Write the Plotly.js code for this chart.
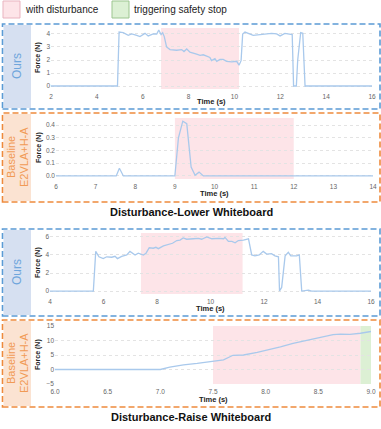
<!DOCTYPE html>
<html>
<head>
<meta charset="utf-8">
<script src="https://cdn.plot.ly/plotly-3.0.1.min.js"></script>
<style>
  html, body { margin: 0; padding: 0; background: #fff; }
  #plot { width: 381px; height: 429px; }
</style>
</head>
<body>
<div id="plot"></div>
<script>
// lower whiteboard, ours
const lowOursT = [2, 4.9, 4.97, 5.15, 5.37, 5.52, 5.74, 5.88, 6.10, 6.24, 6.46, 6.61, 6.70, 6.80, 6.87, 6.94, 7.04, 7.19, 7.48, 7.70, 7.80, 7.92, 8.06, 8.21, 8.35, 8.50, 8.64, 8.79, 8.93, 9.0, 9.15, 9.23, 9.37, 9.51, 9.66, 9.88, 10.1, 10.2, 10.29, 10.36, 10.46, 10.82, 11.11, 11.40, 11.62, 11.84, 11.99, 12.2, 12.45, 12.52, 12.58, 12.70, 12.76, 12.82, 12.89, 12.98, 13.08, 16];
const lowOursF = [0, 0, 4.15, 4.1, 3.9, 4.0, 3.9, 3.8, 4.05, 3.85, 4.0, 4.0, 4.3, 3.95, 4.1, 3.8, 3.0, 2.8, 2.75, 2.8, 2.65, 2.85, 2.6, 2.55, 2.45, 2.35, 2.4, 2.3, 2.2, 1.95, 2.1, 1.9, 2.05, 2.05, 1.9, 1.85, 1.9, 1.6, 1.95, 4.0, 4.15, 3.9, 3.95, 4.0, 4.05, 4.0, 3.85, 4.05, 4.0, 3.95, 0, 0, 2.0, 3.3, 4.1, 4.05, 0, 0];

// lower whiteboard, baseline
const lowBaseT = [6, 7.52, 7.6, 7.7, 9.0, 9.09, 9.2, 9.3, 9.41, 9.51, 9.61, 9.72, 14];
const lowBaseF = [0, 0, 0.06, 0, 0, 0.3, 0.43, 0.41, 0.07, 0.005, 0.03, 0, 0];

// raise whiteboard, ours
const raiseOursT = [4, 5.62, 5.71, 5.83, 5.99, 6.12, 6.31, 6.43, 6.52, 6.68, 6.87, 6.99, 7.18, 7.30, 7.49, 7.59, 7.71, 7.86, 7.96, 8.05, 8.24, 8.42, 8.58, 8.74, 8.86, 8.98, 9.11, 9.36, 9.55, 9.67, 9.86, 10.05, 10.30, 10.49, 10.54, 10.67, 10.80, 10.92, 11.04, 11.23, 11.42, 11.54, 11.66, 11.82, 11.97, 12.10, 12.28, 12.41, 12.54, 12.58, 12.66, 12.79, 12.91, 13.00, 13.22, 13.32, 13.41, 13.66, 13.78, 16];
const raiseOursF = [0, 0, 4.4, 3.8, 3.6, 3.8, 3.75, 3.85, 3.6, 3.85, 4.0, 4.4, 4.0, 4.2, 4.0, 4.2, 4.8, 4.75, 4.85, 4.7, 5.0, 5.15, 5.3, 5.6, 5.65, 5.9, 5.75, 5.8, 5.85, 5.75, 6.0, 5.8, 5.85, 5.8, 5.95, 5.5, 5.5, 5.35, 5.6, 5.65, 5.8, 4.0, 3.9, 4.0, 4.4, 4.1, 4.15, 3.9, 3.8, 0, 0.4, 3.9, 4.3, 3.9, 3.9, 4.0, 0, 0.1, 0, 0];

// raise whiteboard, baseline
const raiseBaseT = [6, 7.0, 7.09, 7.22, 7.35, 7.47, 7.60, 7.69, 7.79, 7.92, 8.01, 8.14, 8.26, 8.42, 8.55, 8.64, 8.71, 8.80, 8.90, 9.0];
const raiseBaseF = [0, 0, 0.8, 1.6, 2.1, 2.6, 3.3, 4.9, 5.0, 5.9, 6.6, 7.8, 9.0, 10.2, 11.3, 12.0, 12.2, 12.1, 12.5, 13.1];

// shaded windows [start, end]
const lowOursDist = [6.8, 10.2];
const lowBaseDist = [9.0, 12.0];
const raiseOursDist = [7.4, 11.2];
const raiseBaseDist = [7.5, 8.9];
const raiseBaseStop = [8.9, 9.0];

const W = 381, H = 429;
const px = v => v / W;
const py = v => 1 - v / H;

const lineStyle = {color: '#a9c9ec', width: 1.3};
const FONT = 'Liberation Sans, Arial, sans-serif';

const data = [
  {x: lowOursT, y: lowOursF, xaxis: 'x', yaxis: 'y', type: 'scatter', mode: 'lines', line: lineStyle},
  {x: lowBaseT, y: lowBaseF, xaxis: 'x2', yaxis: 'y2', type: 'scatter', mode: 'lines', line: lineStyle},
  {x: raiseOursT, y: raiseOursF, xaxis: 'x3', yaxis: 'y3', type: 'scatter', mode: 'lines', line: lineStyle},
  {x: raiseBaseT, y: raiseBaseF, xaxis: 'x4', yaxis: 'y4', type: 'scatter', mode: 'lines', line: lineStyle}
];

function xax(l, r, range, dtick, anchor, fmt) {
  return {domain: [px(l), px(r)], range: range, dtick: dtick, anchor: anchor, tickformat: fmt,
    showgrid: false, zeroline: false, showline: false, ticks: '', ticklen: 0, ticklabelstandoff: 2,
    tickfont: {size: 6.5, color: '#666', family: FONT}, automargin: false};
}
function yax(top, bot, range, dtick, anchor, fmt) {
  return {domain: [py(bot), py(top)], range: range, dtick: dtick, anchor: anchor, tickformat: fmt,
    showgrid: true, gridcolor: '#e3e3e3', griddash: 'dot', gridwidth: 1,
    zeroline: false, showline: false, ticks: '', ticklen: 0,
    tickfont: {size: 6.5, color: '#666', family: FONT}, automargin: false};
}

function band(xr, ax, color) {
  return {type: 'rect', xref: ax, yref: ax.replace('x', 'y') + ' domain', x0: xr[0], x1: xr[1], y0: 0, y1: 1,
    fillcolor: color, line: {width: 0}, layer: 'below'};
}
function box(top, bot, color) {
  return {type: 'rect', xref: 'paper', yref: 'paper', x0: px(2.5), x1: px(380), y0: py(bot), y1: py(top),
    line: {color: color, width: 1.6, dash: '6px,3px'}, fillcolor: 'rgba(0,0,0,0)'};
}
function side(top, bot, color) {
  return {type: 'rect', xref: 'paper', yref: 'paper', x0: px(3.5), x1: px(31), y0: py(bot - 1), y1: py(top + 1),
    line: {width: 0}, fillcolor: color, layer: 'below'};
}
function label(text, x, y, size, color, angle, xanchor) {
  return {text: text, x: px(x), y: py(y), xref: 'paper', yref: 'paper', xanchor: xanchor || 'center', yanchor: 'middle',
    textangle: angle || 0, showarrow: false, font: {size: size, color: color, family: FONT}};
}

const PINK = '#fde4e8', GREEN = '#dcf0d4';
const BLUE = '#5b9bd5', ORANGE = '#ee8a3c';

const shapes = [
  band(lowOursDist, 'x', PINK),
  band(lowBaseDist, 'x2', PINK),
  band(raiseOursDist, 'x3', PINK),
  band(raiseBaseDist, 'x4', PINK),
  band(raiseBaseStop, 'x4', GREEN),
  side(24, 109, '#d6e0f1'),
  side(113, 202, '#fbe3d2'),
  side(229, 316, '#d6e0f1'),
  side(320, 407, '#fbe3d2'),
  box(24, 109, BLUE),
  box(113, 202, ORANGE),
  box(229, 316, BLUE),
  box(320, 407, ORANGE),
  // legend swatches
  {type: 'rect', xref: 'paper', yref: 'paper', x0: px(3), x1: px(20), y0: py(18), y1: py(1),
    fillcolor: PINK, line: {color: '#e9b3bf', width: 1}},
  {type: 'rect', xref: 'paper', yref: 'paper', x0: px(112), x1: px(129), y0: py(18), y1: py(1),
    fillcolor: GREEN, line: {color: '#9cc58f', width: 1}}
];

const annotations = [
  label('with disturbance', 23, 9.5, 10, '#222', 0, 'left'),
  label('triggering safety stop', 132, 9.5, 10, '#222', 0, 'left'),
  label('Ours', 17, 66, 12, '#6fa6dc', -90),
  label('Baseline', 11, 157, 11, '#f19a55', -90),
  label('E2VLA+H-A', 24, 157, 11, '#f19a55', -90),
  label('Ours', 17, 272, 12, '#6fa6dc', -90),
  label('Baseline', 11, 363, 11, '#f19a55', -90),
  label('E2VLA+H-A', 24, 363, 11, '#f19a55', -90),
  // axis titles
  label('<b>Force (N)</b>', 38, 58, 7, '#222', -90),
  label('<b>Time (s)</b>', 211.5, 101.5, 7.5, '#222'),
  label('<b>Force (N)</b>', 39, 148, 7, '#222', -90),
  label('<b>Time (s)</b>', 214.5, 193.5, 7.5, '#222'),
  label('<b>Force (N)</b>', 38, 263, 7, '#222', -90),
  label('<b>Time (s)</b>', 210.5, 308.5, 7.5, '#222'),
  label('<b>Force (N)</b>', 38, 355, 7, '#222', -90),
  label('<b>Time (s)</b>', 213, 399.5, 7.5, '#222'),
  label('<b>Disturbance-Lower Whiteboard</b>', 191, 212, 11, '#111'),
  label('<b>Disturbance-Raise Whiteboard</b>', 191, 417, 11, '#111')
];

const layout = {
  width: W, height: H,
  margin: {l: 0, r: 0, t: 0, b: 0},
  paper_bgcolor: '#fff', plot_bgcolor: 'rgba(0,0,0,0)',
  showlegend: false,
  font: {family: FONT},
  xaxis: xax(51, 372, [2, 16], 2, 'y'),
  yaxis: yax(28, 89, [-0.23, 4.46], 1, 'x'),
  xaxis2: xax(56, 373, [6, 14], 1, 'y2'),
  yaxis2: yax(118, 179, [-0.024, 0.455], 0.1, 'x2', '.1f'),
  xaxis3: xax(50, 371, [4, 16], 2, 'y3'),
  yaxis3: yax(233, 294, [-0.33, 6.44], 2, 'x3'),
  xaxis4: xax(55, 371, [6, 9], 0.5, 'y4', '.1f'),
  yaxis4: yax(326, 384, [-5, 15], 5, 'x4'),
  shapes: shapes,
  annotations: annotations
};

Plotly.newPlot('plot', data, layout, {displayModeBar: false, staticPlot: true});
</script>
</body>
</html>
